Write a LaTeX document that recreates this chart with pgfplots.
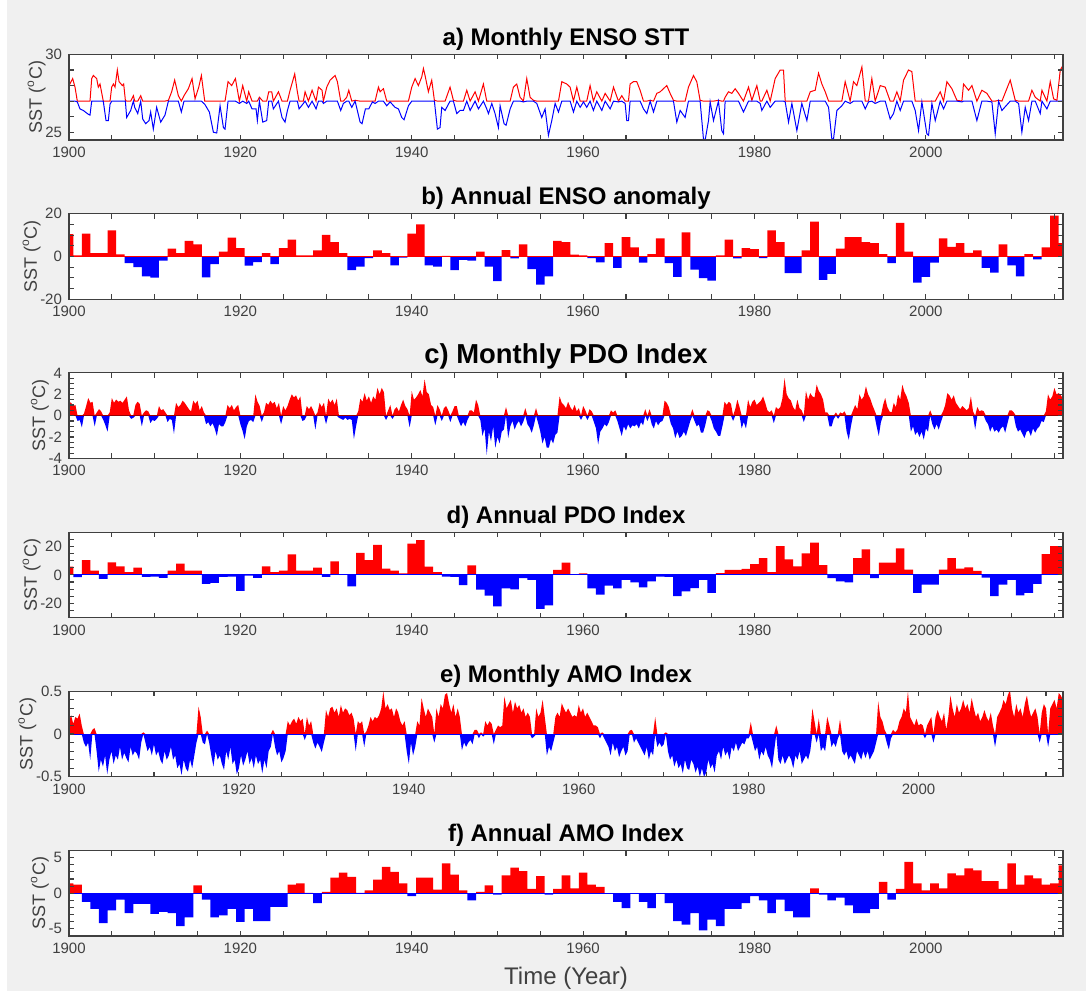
\documentclass[border=0pt]{standalone}
\usepackage{pgfplots}
\pgfplotsset{compat=1.18}
\usepackage{pgfplotstable}
\usepackage{fontspec}
\setmainfont{Liberation Sans}
\definecolor{bgc}{HTML}{F0F0F0}
\definecolor{axc}{HTML}{404040}

% a) monthly ENSO sea surface temperature (degC)
\pgfplotstableread{
yr v
1900.00 28.0
1900.43 28.45
1900.70 27.9
1900.97 26.95
1901.28 26.5
1901.67 26.4
1902.26 26.15
1902.45 26.1
1902.65 28.45
1902.84 28.65
1903.23 28.45
1903.42 27.9
1903.62 28.1
1904.00 27.0
1904.32 25.75
1904.59 25.75
1904.79 26.8
1904.98 27.9
1905.18 28.1
1905.37 27.9
1905.64 29.0
1905.84 28.25
1906.23 28.0
1906.38 28.1
1906.58 27.05
1906.73 25.95
1907.20 26.4
1907.51 27.35
1907.67 26.6
1908.02 26.2
1908.37 27.35
1908.60 25.85
1908.95 25.55
1909.34 25.75
1909.53 26.3
1909.84 25.2
1910.23 26.6
1910.70 25.65
1911.20 26.1
1911.60 27.05
1911.98 27.6
1912.33 28.35
1912.76 27.35
1913.11 26.3
1913.42 27.35
1913.93 27.8
1914.36 28.45
1914.71 27.15
1915.14 27.9
1915.45 28.65
1915.84 26.8
1916.38 26.3
1916.85 25.0
1917.24 24.95
1917.63 26.7
1918.02 25.3
1918.21 25.2
1918.56 28.25
1918.99 28.0
1919.42 28.45
1919.88 26.85
1920.27 28.0
1920.74 26.85
1920.97 27.6
1921.36 26.5
1921.83 26.5
1921.98 25.75
1922.22 27.25
1922.61 25.65
1923.07 25.75
1923.31 27.6
1923.66 27.6
1923.85 26.5
1924.44 27.6
1924.86 25.95
1925.21 25.65
1925.49 26.4
1925.80 27.7
1926.34 28.75
1926.65 27.6
1926.85 26.5
1927.35 26.85
1927.55 27.6
1927.94 26.6
1928.37 27.7
1928.83 26.5
1929.11 27.9
1929.53 27.7
1929.69 26.85
1930.08 27.9
1930.47 28.35
1931.05 28.65
1931.32 28.25
1931.71 26.4
1932.02 26.85
1932.41 27.25
1932.65 27.7
1933.00 26.6
1933.39 27.05
1933.97 25.65
1934.20 25.55
1934.59 26.5
1934.98 26.5
1935.41 26.95
1935.72 26.85
1936.11 27.9
1936.30 27.6
1936.69 27.8
1937.08 26.7
1937.47 26.95
1938.05 26.6
1938.44 26.5
1938.83 25.95
1939.10 25.8
1939.61 26.7
1940.00 27.9
1940.39 28.45
1940.77 28.0
1941.16 28.55
1941.36 29.1
1941.55 28.65
1941.94 27.6
1942.33 28.35
1942.64 27.05
1942.99 25.2
1943.30 25.3
1943.50 26.6
1943.89 26.4
1944.47 27.9
1944.86 27.05
1945.25 26.2
1945.64 26.4
1946.03 26.4
1946.42 27.7
1946.81 26.4
1947.39 27.6
1947.78 26.5
1948.36 28.1
1948.75 26.5
1948.95 26.2
1949.34 26.85
1949.72 26.2
1950.11 25.3
1950.31 26.7
1950.77 25.55
1951.01 25.45
1951.48 26.5
1951.86 27.9
1952.25 28.1
1952.64 27.25
1953.03 26.95
1953.42 28.45
1953.81 27.25
1954.20 27.05
1954.59 26.85
1955.17 25.95
1955.56 26.5
1955.95 24.8
1956.34 25.75
1956.73 26.85
1957.12 26.3
1957.51 28.25
1958.09 28.1
1958.48 27.9
1958.87 26.3
1959.26 27.9
1959.65 26.6
1960.04 26.95
1960.42 26.6
1960.81 28.0
1961.20 26.4
1961.59 27.6
1962.18 26.4
1962.57 27.5
1963.15 26.5
1963.54 27.9
1964.12 26.95
1964.51 27.35
1964.90 26.85
1965.09 25.75
1965.29 25.75
1965.48 28.1
1965.87 28.25
1966.26 28.25
1966.65 27.7
1967.04 26.5
1967.43 26.2
1967.82 27.05
1968.21 26.3
1968.60 27.5
1968.99 27.6
1969.37 27.8
1969.76 28.0
1970.15 27.5
1970.54 27.05
1970.93 25.65
1971.32 26.4
1971.90 25.95
1972.29 27.9
1972.88 28.65
1973.27 28.23
1973.65 27.05
1974.04 24.57
1974.24 24.5
1974.63 25.75
1974.82 26.95
1975.21 25.75
1975.79 27.05
1976.18 25.1
1976.38 24.9
1976.57 27.25
1976.96 27.6
1977.35 27.5
1977.74 27.8
1978.13 27.5
1978.71 26.3
1979.30 27.9
1979.69 27.05
1980.27 28.0
1980.66 26.85
1980.85 26.4
1981.44 27.7
1981.83 26.6
1982.41 28.45
1982.99 29.0
1983.38 29.0
1983.58 26.95
1983.97 25.65
1984.36 26.85
1984.94 25.1
1985.52 26.85
1986.11 25.75
1986.50 27.6
1987.08 27.7
1987.47 28.8
1987.86 28.1
1988.25 27.6
1988.64 26.6
1989.02 24.57
1989.22 24.57
1989.61 26.4
1990.19 26.7
1990.58 28.25
1991.16 26.85
1991.55 28.25
1991.94 28.0
1992.53 29.2
1992.92 26.5
1993.30 26.95
1993.69 28.45
1994.08 26.85
1994.67 28.0
1995.25 27.9
1995.83 25.85
1996.22 26.2
1996.61 27.6
1997.00 26.4
1997.39 28.35
1997.97 29.0
1998.36 28.9
1998.75 26.4
1999.14 25.1
1999.53 26.95
2000.11 24.9
2000.31 24.8
2000.70 26.85
2001.09 25.75
2001.67 27.6
2002.06 26.5
2002.45 28.25
2003.03 27.8
2003.62 27.05
2004.20 26.95
2004.39 28.1
2004.98 27.7
2005.37 28.0
2005.95 25.75
2006.53 27.7
2007.12 27.5
2007.70 26.95
2008.09 24.9
2008.48 27.05
2008.87 26.4
2009.84 28.35
2010.43 27.05
2010.82 26.85
2011.20 25.0
2011.59 26.6
2011.98 25.75
2012.37 27.7
2012.76 27.25
2013.34 26.2
2013.54 27.7
2014.12 26.5
2014.51 28.25
2014.90 27.15
2015.29 27.05
2015.68 29.0
2016.00 29.3
}\ensomonthly

% b) annual ENSO anomaly
\pgfplotstableread{
yr v
1900 10.4
1901 0.5
1902 10.7
1903 1.5
1904 1.5
1905 12.2
1906 1.0
1907 -3.1
1908 -5.0
1909 -9.3
1910 -9.9
1911 -1.9
1912 3.7
1913 1.5
1914 7.3
1915 5.6
1916 -9.8
1917 -3.6
1918 2.3
1919 8.8
1920 3.9
1921 -4.3
1922 -2.6
1923 1.5
1924 -3.6
1925 3.9
1926 7.9
1927 0.5
1928 0.5
1929 2.8
1930 10.1
1931 6.7
1932 1.5
1933 -6.4
1934 -4.8
1935 -0.8
1936 2.8
1937 1.5
1938 -4.2
1939 -0.6
1940 10.7
1941 15.0
1942 -4.2
1943 -4.8
1944 0.3
1945 -6.4
1946 -1.6
1947 -1.9
1948 2.2
1949 -4.8
1950 -11.5
1951 2.9
1952 -0.9
1953 5.6
1954 -5.9
1955 -13.2
1956 -9.3
1957 7.3
1958 6.7
1959 0.8
1960 0.5
1961 -0.8
1962 -2.8
1963 6.2
1964 -5.4
1965 9.0
1966 4.3
1967 -2.9
1968 1.1
1969 8.5
1970 -3.1
1971 -9.6
1972 11.3
1973 -6.2
1974 -10.2
1975 -11.3
1976 0.5
1977 7.9
1978 -0.9
1979 3.9
1980 3.4
1981 -0.8
1982 12.2
1983 6.7
1984 -7.8
1985 -7.8
1986 2.8
1987 16.3
1988 -11.0
1989 -8.2
1990 3.7
1991 9.0
1992 9.0
1993 6.7
1994 6.2
1995 1.1
1996 -3.1
1997 15.7
1998 2.2
1999 -12.2
2000 -9.5
2001 -2.9
2002 8.5
2003 4.5
2004 6.2
2005 1.7
2006 2.8
2007 -5.4
2008 -7.6
2009 5.6
2010 -4.2
2011 -9.3
2012 1.1
2013 -1.4
2014 4.3
2015 19.1
2016 6.2
}\ensoannual

% c) monthly PDO index, sampled every quarter
\pgfplotstableread{
yr v
1900 1.3
1900.25 1.2
1900.5 0.9
1900.75 1.0
1901 -0.5
1901.25 -0.4
1901.5 -1.1
1901.75 0.2
1902 0.9
1902.25 1.65
1902.5 1.2
1902.75 1.3
1903 -1.0
1903.25 0.3
1903.5 0.6
1903.75 0.4
1904 -0.4
1904.25 -0.9
1904.5 -1.5
1904.75 0.3
1905 1.65
1905.25 1.2
1905.5 1.5
1905.75 1.3
1906 1.4
1906.25 1.2
1906.5 1.5
1906.75 1.8
1907 0.5
1907.25 -0.3
1907.5 -0.2
1907.75 1.0
1908 1.3
1908.25 1.1
1908.5 -1.0
1908.75 0.3
1909 0.5
1909.25 0.4
1909.5 -0.7
1909.75 -0.4
1910 -0.5
1910.25 -0.3
1910.5 0.9
1910.75 0.5
1911 0.6
1911.25 0.3
1911.5 -0.6
1911.75 -0.3
1912 -0.4
1912.25 -1.7
1912.5 1.2
1912.75 0.8
1913 1.0
1913.25 1.4
1913.5 1.2
1913.75 0.9
1914 0.6
1914.25 0.4
1914.5 1.4
1914.75 1.1
1915 1.4
1915.25 0.5
1915.5 0.9
1915.75 0.3
1916 -0.8
1916.25 -0.6
1916.5 -1.0
1916.75 -0.7
1917 -1.2
1917.25 -1.9
1917.5 -0.8
1917.75 -1.0
1918 -1.0
1918.25 -0.6
1918.5 1.0
1918.75 0.7
1919 1.0
1919.25 0.5
1919.5 0.8
1919.75 1.0
1920 -0.8
1920.25 -1.4
1920.5 -2.2
1920.75 -1.0
1921 -0.5
1921.25 -0.4
1921.5 -0.6
1921.75 2.0
1922 1.3
1922.25 0.9
1922.5 -0.6
1922.75 0.3
1923 1.2
1923.25 1.0
1923.5 1.4
1923.75 1.1
1924 1.3
1924.25 0.7
1924.5 1.2
1924.75 -0.8
1925 0.9
1925.25 0.5
1925.5 0.9
1925.75 1.5
1926 2.0
1926.25 1.7
1926.5 1.9
1926.75 1.4
1927 1.8
1927.25 -0.5
1927.5 -0.4
1927.75 0.9
1928 0.6
1928.25 0.9
1928.5 0.5
1928.75 -1.3
1929 0.3
1929.25 1.2
1929.5 0.8
1929.75 1.2
1930 -0.8
1930.25 1.6
1930.5 1.2
1930.75 1.5
1931 1.0
1931.25 1.6
1931.5 -0.2
1931.75 -0.3
1932 -0.4
1932.25 -0.2
1932.5 -0.4
1932.75 -0.3
1933 -0.4
1933.25 -2.2
1933.5 -1.0
1933.75 0.4
1934 1.6
1934.25 1.3
1934.5 2.1
1934.75 1.4
1935 1.8
1935.25 1.2
1935.5 1.8
1935.75 1.5
1936 2.6
1936.25 2.0
1936.5 2.6
1936.75 2.2
1937 -0.4
1937.25 0.5
1937.5 1.0
1937.75 -0.3
1938 0.6
1938.25 0.8
1938.5 0.4
1938.75 1.0
1939 1.5
1939.25 0.9
1939.5 0.6
1939.75 -1.1
1940 2.3
1940.25 1.5
1940.5 1.7
1940.75 2.0
1941 2.4
1941.25 1.8
1941.5 3.4
1941.75 2.2
1942 2.0
1942.25 1.0
1942.5 0.8
1942.75 -0.9
1943 1.0
1943.25 0.6
1943.5 -0.5
1943.75 0.7
1944 0.9
1944.25 0.5
1944.5 -0.6
1944.75 0.4
1945 0.9
1945.25 0.9
1945.5 -0.5
1945.75 -1.0
1946 -0.6
1946.25 -1.0
1946.5 -0.4
1946.75 0.5
1947 0.5
1947.25 0.3
1947.5 1.5
1947.75 1.0
1948 -0.4
1948.25 -1.9
1948.5 -1.2
1948.75 -3.65
1949 -1.5
1949.25 -2.4
1949.5 -1.0
1949.75 -3.0
1950 -2.0
1950.25 -2.6
1950.5 -1.5
1950.75 -1.3
1951 0.8
1951.25 -2.1
1951.5 -1.0
1951.75 -0.5
1952 -1.3
1952.25 -0.8
1952.5 -0.5
1952.75 -1.0
1953 -0.6
1953.25 0.7
1953.5 -0.8
1953.75 -1.1
1954 -1.6
1954.25 -0.9
1954.5 0.7
1954.75 -0.7
1955 -1.5
1955.25 -2.6
1955.5 -2.0
1955.75 -3.0
1956 -3.0
1956.25 -2.2
1956.5 -2.6
1956.75 -1.8
1957 -1.6
1957.25 1.8
1957.5 1.2
1957.75 1.0
1958 0.7
1958.25 1.3
1958.5 0.8
1958.75 0.5
1959 1.0
1959.25 0.4
1959.5 0.7
1959.75 -0.4
1960 0.9
1960.25 0.5
1960.5 -0.4
1960.75 0.6
1961 0.4
1961.25 -0.6
1961.5 -1.2
1961.75 -2.7
1962 -1.5
1962.25 -1.2
1962.5 -0.8
1962.75 -1.0
1963 -0.6
1963.25 0.5
1963.5 0.3
1963.75 0.5
1964 -0.5
1964.25 -1.2
1964.5 -1.9
1964.75 -1.0
1965 -1.4
1965.25 -0.8
1965.5 -1.2
1965.75 -0.9
1966 -1.0
1966.25 -0.8
1966.5 -1.2
1966.75 -0.6
1967 -0.9
1967.25 0.6
1967.5 -0.5
1967.75 0.6
1968 -0.8
1968.25 -1.2
1968.5 -0.5
1968.75 -0.9
1969 -0.6
1969.25 -0.5
1969.5 1.4
1969.75 1.2
1970 0.8
1970.25 -0.8
1970.5 -1.2
1970.75 -2.1
1971 -1.5
1971.25 -2.1
1971.5 -1.9
1971.75 -1.5
1972 -1.9
1972.25 -1.2
1972.5 -0.5
1972.75 0.6
1973 -0.5
1973.25 -1.0
1973.5 -0.8
1973.75 -1.6
1974 -1.6
1974.25 -0.9
1974.5 0.5
1974.75 0.4
1975 -0.5
1975.25 -1.2
1975.5 -1.5
1975.75 -1.9
1976 -1.9
1976.25 -1.0
1976.5 1.3
1976.75 1.0
1977 1.3
1977.25 1.1
1977.5 -0.5
1977.75 0.6
1978 1.5
1978.25 0.8
1978.5 -1.2
1978.75 -0.6
1979 -1.2
1979.25 1.5
1979.5 0.8
1979.75 1.3
1980 1.5
1980.25 1.0
1980.5 1.2
1980.75 1.4
1981 1.8
1981.25 1.2
1981.5 0.5
1981.75 0.3
1982 0.5
1982.25 -0.7
1982.5 0.8
1982.75 0.6
1983 0.8
1983.25 1.6
1983.5 3.5
1983.75 2.0
1984 1.6
1984.25 1.4
1984.5 0.8
1984.75 0.5
1985 1.5
1985.25 0.7
1985.5 0.5
1985.75 -0.6
1986 2.3
1986.25 1.5
1986.5 2.1
1986.75 1.8
1987 1.7
1987.25 2.9
1987.5 2.3
1987.75 2.0
1988 1.5
1988.25 0.3
1988.5 0.3
1988.75 -1.0
1989 -1.0
1989.25 -0.3
1989.5 0.3
1989.75 -0.3
1990 0.3
1990.25 0.2
1990.5 0.4
1990.75 -1.5
1991 -2.25
1991.25 -1.0
1991.5 0.5
1991.75 1.0
1992 0.6
1992.25 2.0
1992.5 1.5
1992.75 1.8
1993 2.75
1993.25 2.0
1993.5 1.6
1993.75 1.0
1994 0.5
1994.25 -1.0
1994.5 -1.9
1994.75 -0.6
1995 1.0
1995.25 1.65
1995.5 0.8
1995.75 0.4
1996 0.3
1996.25 1.2
1996.5 0.8
1996.75 2.0
1997 1.5
1997.25 2.9
1997.5 2.2
1997.75 1.8
1998 1.2
1998.25 -1.5
1998.5 -1.0
1998.75 -1.8
1999 -1.5
1999.25 -2.0
1999.5 -1.5
1999.75 -2.25
2000 -1.2
2000.25 -1.5
2000.5 0.5
2000.75 -0.8
2001 -1.3
2001.25 -0.8
2001.5 -1.3
2001.75 -0.6
2002 0.4
2002.25 1.0
2002.5 2.1
2002.75 1.9
2003 1.5
2003.25 1.9
2003.5 1.2
2003.75 0.9
2004 0.6
2004.25 0.9
2004.5 0.7
2004.75 0.5
2005 0.7
2005.25 1.8
2005.5 0.4
2005.75 -1.3
2006 0.8
2006.25 0.4
2006.5 0.5
2006.75 0.4
2007 -0.5
2007.25 -0.8
2007.5 -1.5
2007.75 -1.0
2008 -1.5
2008.25 -1.3
2008.5 -1.6
2008.75 -1.2
2009 -1.0
2009.25 -1.6
2009.5 -0.8
2009.75 0.5
2010 0.5
2010.25 0.3
2010.5 -1.0
2010.75 -1.5
2011 -1.3
2011.25 -1.7
2011.5 -2.1
2011.75 -1.5
2012 -1.4
2012.25 -1.9
2012.5 -1.2
2012.75 -1.6
2013 -1.2
2013.25 -1.0
2013.5 -0.5
2013.75 -0.6
2014 0.4
2014.25 2.0
2014.5 1.5
2014.75 1.8
2015 2.6
2015.25 2.0
2015.5 2.1
2015.75 1.9
2016 1.6
}\pdomonthly

% d) annual PDO index
\pgfplotstableread{
yr v
1900 5.8
1901 -1.6
1902 10.4
1903 3.0
1904 -2.8
1905 8.8
1906 6.0
1907 1.9
1908 5.1
1909 -1.4
1910 -1.2
1911 -2.1
1912 3.0
1913 7.9
1914 3.0
1915 3.0
1916 -6.3
1917 -5.6
1918 -1.4
1919 -1.2
1920 -11.3
1921 -0.5
1922 -2.1
1923 6.0
1924 1.9
1925 3.0
1926 14.4
1927 3.0
1928 3.0
1929 5.1
1930 -1.4
1931 9.5
1932 0.2
1933 -8.1
1934 15.5
1935 10.4
1936 21.1
1937 4.4
1938 3.0
1939 1.0
1940 22.0
1941 24.3
1942 5.8
1943 1.9
1944 -1.2
1945 -1.4
1946 -7.2
1947 6.7
1948 -10.4
1949 -14.6
1950 -22.2
1951 -9.5
1952 -10.2
1953 -2.3
1954 -3.5
1955 -23.8
1956 -21.5
1957 3.5
1958 8.6
1959 0.2
1960 1.0
1961 -9.5
1962 -13.9
1963 -7.6
1964 -9.5
1965 -3.5
1966 -5.3
1967 -8.8
1968 -4.6
1969 -1.2
1970 -1.4
1971 -15.0
1972 -11.6
1973 -9.3
1974 -3.5
1975 -12.7
1976 1.2
1977 3.5
1978 3.5
1979 4.2
1980 7.6
1981 11.8
1982 1.9
1983 20.1
1984 10.9
1985 6.0
1986 15.0
1987 22.7
1988 6.9
1989 -2.3
1990 -4.6
1991 -5.3
1992 11.8
1993 17.8
1994 -2.3
1995 8.6
1996 8.6
1997 18.5
1998 3.7
1999 -12.7
2000 -6.9
2001 -6.9
2002 3.7
2003 11.8
2004 4.4
2005 5.3
2006 2.8
2007 -1.9
2008 -15.0
2009 -6.9
2010 -3.5
2011 -14.4
2012 -12.7
2013 -6.3
2014 14.6
2015 20.1
2016 20.1
}\pdoannual

% e) monthly AMO index, sampled every quarter
\pgfplotstableread{
yr v
1900 0.15
1900.25 0.22
1900.5 0.12
1900.75 0.2
1901 0.18
1901.25 0.24
1901.5 0.1
1901.75 -0.1
1902 -0.15
1902.25 -0.1
1902.5 -0.3
1902.75 0.05
1903 0.07
1903.25 -0.2
1903.5 -0.44
1903.75 -0.3
1904 -0.38
1904.25 -0.25
1904.5 -0.47
1904.75 -0.3
1905 -0.2
1905.25 -0.35
1905.5 -0.25
1905.75 -0.3
1906 -0.15
1906.25 -0.3
1906.5 -0.22
1906.75 -0.28
1907 -0.33
1907.25 -0.15
1907.5 -0.25
1907.75 -0.2
1908 -0.23
1908.25 -0.3
1908.5 -0.1
1908.75 0.02
1909 -0.1
1909.25 -0.2
1909.5 -0.15
1909.75 -0.25
1910 -0.12
1910.25 -0.25
1910.5 -0.2
1910.75 -0.3
1911 -0.35
1911.25 -0.2
1911.5 -0.3
1911.75 -0.25
1912 -0.15
1912.25 -0.3
1912.5 -0.25
1912.75 -0.4
1913 -0.35
1913.25 -0.48
1913.5 -0.3
1913.75 -0.4
1914 -0.44
1914.25 -0.3
1914.5 -0.4
1914.75 -0.25
1915 -0.1
1915.25 0.32
1915.5 0.2
1915.75 -0.1
1916 -0.12
1916.25 0.04
1916.5 -0.1
1916.75 -0.25
1917 -0.38
1917.25 -0.2
1917.5 -0.3
1917.75 -0.25
1918 -0.35
1918.25 -0.42
1918.5 -0.2
1918.75 -0.3
1919 -0.15
1919.25 -0.35
1919.5 -0.3
1919.75 -0.47
1920 -0.4
1920.25 -0.25
1920.5 -0.37
1920.75 -0.3
1921 -0.2
1921.25 -0.35
1921.5 -0.28
1921.75 -0.4
1922 -0.25
1922.25 -0.35
1922.5 -0.3
1922.75 -0.46
1923 -0.3
1923.25 -0.4
1923.5 -0.2
1923.75 -0.15
1924 0.05
1924.25 -0.15
1924.5 -0.25
1924.75 -0.2
1925 -0.33
1925.25 -0.28
1925.5 -0.2
1925.75 0.15
1926 0.1
1926.25 0.15
1926.5 0.18
1926.75 0.12
1927 0.2
1927.25 0.15
1927.5 0.18
1927.75 -0.07
1928 0.2
1928.25 0.1
1928.5 0.15
1928.75 -0.1
1929 -0.17
1929.25 -0.1
1929.5 -0.15
1929.75 -0.21
1930 -0.1
1930.25 0.28
1930.5 0.2
1930.75 0.3
1931 0.32
1931.25 0.25
1931.5 0.3
1931.75 0.2
1932 0.34
1932.25 0.25
1932.5 0.3
1932.75 0.28
1933 0.22
1933.25 0.25
1933.5 0.18
1933.75 -0.2
1934 0.15
1934.25 0.12
1934.5 0.15
1934.75 -0.15
1935 0.03
1935.25 0.1
1935.5 0.2
1935.75 0.15
1936 0.2
1936.25 0.18
1936.5 0.22
1936.75 0.3
1937 0.5
1937.25 0.3
1937.5 0.35
1937.75 0.28
1938 0.3
1938.25 0.2
1938.5 0.3
1938.75 0.25
1939 0.15
1939.25 0.1
1939.5 0.15
1939.75 -0.2
1940 -0.35
1940.25 -0.1
1940.5 -0.25
1940.75 -0.15
1941 0.15
1941.25 0.1
1941.5 0.42
1941.75 0.3
1942 0.2
1942.25 0.3
1942.5 0.25
1942.75 0.2
1943 -0.1
1943.25 0.3
1943.5 0.2
1943.75 0.35
1944 0.3
1944.25 0.46
1944.5 0.48
1944.75 0.35
1945 0.25
1945.25 0.35
1945.5 0.2
1945.75 0.3
1946 0.2
1946.25 -0.19
1946.5 -0.1
1946.75 -0.15
1947 -0.1
1947.25 -0.07
1947.5 -0.12
1947.75 0.05
1948 0.05
1948.25 -0.05
1948.5 0.02
1948.75 -0.03
1949 0.15
1949.25 0.1
1949.5 0.15
1949.75 0.12
1950 -0.12
1950.25 0.05
1950.5 0.1
1950.75 0.08
1951 0.1
1951.25 0.44
1951.5 0.3
1951.75 0.35
1952 0.4
1952.25 0.25
1952.5 0.38
1952.75 0.3
1953 0.34
1953.25 0.25
1953.5 0.3
1953.75 0.2
1954 0.25
1954.25 0.2
1954.5 -0.05
1954.75 -0.03
1955 0.3
1955.25 0.2
1955.5 0.25
1955.75 0.4
1956 0.2
1956.25 -0.25
1956.5 -0.15
1956.75 -0.2
1957 -0.1
1957.25 0.2
1957.5 0.25
1957.75 0.2
1958 0.36
1958.25 0.3
1958.5 0.25
1958.75 0.3
1959 0.25
1959.25 0.2
1959.5 0.22
1959.75 0.2
1960 0.34
1960.25 0.25
1960.5 0.3
1960.75 0.2
1961 0.25
1961.25 0.2
1961.5 0.15
1961.75 0.1
1962 0.1
1962.25 0.08
1962.5 -0.05
1962.75 0.02
1963 -0.05
1963.25 -0.1
1963.5 -0.15
1963.75 -0.25
1964 -0.1
1964.25 -0.2
1964.5 -0.15
1964.75 -0.27
1965 -0.2
1965.25 -0.15
1965.5 -0.25
1965.75 -0.2
1966 0.04
1966.25 0.05
1966.5 -0.1
1966.75 -0.05
1967 -0.1
1967.25 -0.15
1967.5 -0.2
1967.75 -0.25
1968 -0.15
1968.25 -0.3
1968.5 -0.2
1968.75 -0.25
1969 0.2
1969.25 -0.15
1969.5 -0.1
1969.75 -0.15
1970 -0.12
1970.25 0.02
1970.5 -0.2
1970.75 -0.3
1971 -0.25
1971.25 -0.38
1971.5 -0.3
1971.75 -0.4
1972 -0.35
1972.25 -0.46
1972.5 -0.3
1972.75 -0.4
1973 -0.42
1973.25 -0.3
1973.5 -0.35
1973.75 -0.45
1974 -0.38
1974.25 -0.5
1974.5 -0.4
1974.75 -0.5
1975 -0.45
1975.25 -0.3
1975.5 -0.4
1975.75 -0.35
1976 -0.45
1976.25 -0.25
1976.5 -0.2
1976.75 -0.3
1977 -0.15
1977.25 -0.25
1977.5 -0.2
1977.75 -0.3
1978 -0.15
1978.25 -0.2
1978.5 -0.1
1978.75 -0.2
1979 -0.15
1979.25 -0.1
1979.5 -0.12
1979.75 -0.05
1980 -0.05
1980.25 0.14
1980.5 -0.1
1980.75 -0.2
1981 -0.15
1981.25 -0.3
1981.5 -0.2
1981.75 -0.25
1982 -0.15
1982.25 -0.25
1982.5 -0.3
1982.75 -0.4
1983 -0.2
1983.25 0.1
1983.5 -0.3
1983.75 -0.35
1984 -0.25
1984.25 -0.35
1984.5 -0.3
1984.75 -0.25
1985 -0.3
1985.25 -0.4
1985.5 -0.25
1985.75 -0.3
1986 -0.2
1986.25 -0.35
1986.5 -0.3
1986.75 -0.25
1987 -0.3
1987.25 -0.2
1987.5 0.3
1987.75 0.15
1988 -0.1
1988.25 0.18
1988.5 -0.2
1988.75 -0.15
1989 -0.2
1989.25 0.2
1989.5 0.1
1989.75 -0.15
1990 -0.1
1990.25 -0.15
1990.5 -0.05
1990.75 0.17
1991 -0.2
1991.25 -0.25
1991.5 -0.2
1991.75 -0.3
1992 -0.25
1992.25 -0.3
1992.5 -0.35
1992.75 -0.2
1993 -0.25
1993.25 -0.3
1993.5 -0.2
1993.75 -0.28
1994 -0.2
1994.25 -0.3
1994.5 -0.25
1994.75 -0.2
1995 -0.1
1995.25 0.38
1995.5 0.2
1995.75 0.15
1996 0.05
1996.25 -0.1
1996.5 -0.18
1996.75 -0.05
1997 0.05
1997.25 0.02
1997.5 0.05
1997.75 0.15
1998 0.2
1998.25 0.3
1998.5 0.25
1998.75 0.5
1999 0.2
1999.25 0.15
1999.5 0.1
1999.75 0.18
2000 0.1
2000.25 0.12
2000.5 0.1
2000.75 -0.05
2001 0.1
2001.25 0.15
2001.5 0.2
2001.75 -0.1
2002 0.2
2002.25 0.28
2002.5 0.2
2002.75 0.15
2003 0.25
2003.25 0.05
2003.5 0.2
2003.75 0.45
2004 0.3
2004.25 0.2
2004.5 0.35
2004.75 0.25
2005 0.3
2005.25 0.4
2005.5 0.3
2005.75 0.35
2006 0.25
2006.25 0.42
2006.5 0.3
2006.75 0.2
2007 0.25
2007.25 0.15
2007.5 0.2
2007.75 0.28
2008 0.2
2008.25 0.15
2008.5 0.25
2008.75 0.1
2009 -0.15
2009.25 0.2
2009.5 0.25
2009.75 0.3
2010 0.4
2010.25 0.35
2010.5 0.45
2010.75 0.52
2011 0.3
2011.25 0.2
2011.5 0.35
2011.75 0.25
2012 0.3
2012.25 0.2
2012.5 0.35
2012.75 0.45
2013 0.3
2013.25 0.2
2013.5 0.25
2013.75 0.3
2014 0.2
2014.25 -0.1
2014.5 0.25
2014.75 0.35
2015 0.3
2015.25 -0.15
2015.5 0.3
2015.75 0.35
2016 0.4
2016.25 0.3
2016.5 0.48
2016.75 0.45
2017 0.4
}\amomonthly

% f) annual AMO index
\pgfplotstableread{
yr v
1900 1.4
1901 1.2
1902 -1.2
1903 -2.2
1904 -4.2
1905 -2.4
1906 -0.9
1907 -2.8
1908 -1.5
1909 -1.5
1910 -2.9
1911 -2.6
1912 -2.8
1913 -4.6
1914 -3.4
1915 1.1
1916 -0.9
1917 -3.4
1918 -3.1
1919 -2.2
1920 -4.0
1921 -2.2
1922 -3.9
1923 -3.9
1924 -1.9
1925 -1.9
1926 1.2
1927 1.4
1928 0.05
1929 -1.4
1930 0.2
1931 2.2
1932 2.9
1933 2.3
1934 0.05
1935 0.4
1936 1.9
1937 3.7
1938 3.0
1939 1.4
1940 -0.4
1941 2.2
1942 2.2
1943 0.5
1944 4.2
1945 2.6
1946 0.4
1947 -1.0
1948 0.2
1949 1.1
1950 -0.2
1951 2.5
1952 3.6
1953 3.1
1954 0.6
1955 2.4
1956 -0.2
1957 0.6
1958 2.5
1959 0.7
1960 2.9
1961 1.2
1962 0.9
1963 -0.05
1964 -1.2
1965 -2.1
1966 -0.05
1967 -1.2
1968 -2.1
1969 -0.05
1970 -1.4
1971 -3.9
1972 -4.4
1973 -2.8
1974 -5.2
1975 -3.7
1976 -4.6
1977 -2.2
1978 -2.2
1979 -1.4
1980 -0.4
1981 -1.0
1982 -2.8
1983 -0.9
1984 -2.5
1985 -3.4
1986 -3.4
1987 0.7
1988 -0.2
1989 -1.0
1990 -0.6
1991 -1.7
1992 -2.8
1993 -2.8
1994 -2.2
1995 1.6
1996 -0.9
1997 0.6
1998 4.4
1999 1.4
2000 0.4
2001 1.4
2002 0.7
2003 2.8
2004 2.5
2005 3.5
2006 3.2
2007 1.7
2008 1.7
2009 0.6
2010 4.2
2011 1.2
2012 2.5
2013 2.1
2014 1.2
2015 1.4
2016 3.9
}\amoannual

\pgfplotsset{
  panel/.style={
    scale only axis, anchor=south west,
    width=497pt, height=42.75pt,
    xmin=1900, xmax=2016,
    axis on top,
    axis background/.style={fill=white},
    axis line style={axc, line width=0.55pt},
    every tick/.style={axc, line width=0.55pt},
    major tick length=2.5pt, minor tick length=2.5pt,
    xtick={1900,1920,...,2000},
    minor xtick={1905,1910,...,2015},
    tick label style={font=\fontsize{7.5}{9}\selectfont, text=axc},
    /pgf/number format/assume math mode=true,
    /pgf/number format/1000 sep={},
    title style={font=\bfseries\fontsize{12}{14}\selectfont, at={(0.5,1)}, anchor=base, yshift=-1.5pt},
    ylabel={SST (\textsuperscript{o}C)},
    ylabel style={font=\fontsize{9}{10}\selectfont, text=axc},
    ylabel shift=-7pt,
  },
  pos/.style={fill=red, draw=none},
  neg/.style={fill=blue, draw=none},
  annualbar/.style={ybar, bar width=1, bar shift=0pt},
}

\begin{document}
\begin{tikzpicture}
\fill[bgc] (0,0) rectangle (543pt,495.5pt);
\fill[white] (0,0) rectangle (3.5pt,495.5pt);

% a) monthly ENSO SST, red above 27 degC and blue below
\begin{axis}[panel, at={(34.5pt,425.5pt)},
  title={a) Monthly ENSO STT},
  ymin=24.5, ymax=30, ytick={25,30}, minor ytick={26,27,28,29}]
\addplot[red, line width=0.5pt] table[x=yr, y expr={max(\thisrow{v},27)}] {\ensomonthly};
\addplot[blue, line width=0.5pt] table[x=yr, y expr={min(\thisrow{v},27)}] {\ensomonthly};
\end{axis}

% b) annual ENSO anomaly
\begin{axis}[panel, at={(34.5pt,345.9pt)},
  title={b) Annual ENSO anomaly},
  ymin=-20, ymax=20, ytick={-20,0,20}, minor ytick={-15,-10,-5,5,10,15}]
\addplot[annualbar, pos] table[x=yr, y expr={max(\thisrow{v},0)}] {\ensoannual};
\addplot[annualbar, neg] table[x=yr, y expr={min(\thisrow{v},0)}] {\ensoannual};
\draw[red, line width=0.5pt] (axis cs:1900,0) -- (axis cs:2016,0);
\end{axis}

% c) monthly PDO index
\begin{axis}[panel, at={(34.5pt,266.3pt)},
  title={c) Monthly PDO Index},
  title style={font=\bfseries\fontsize{13.7}{16}\selectfont},
  ymin=-4, ymax=4, ytick={-4,-2,0,2,4}, minor y tick num=3]
\addplot[pos] table[x=yr, y expr={max(\thisrow{v},0)}] {\pdomonthly} \closedcycle;
\addplot[neg] table[x=yr, y expr={min(\thisrow{v},0)}] {\pdomonthly} \closedcycle;
\draw[red!60!black, line width=0.4pt] (axis cs:1900,0) -- (axis cs:2016,0);
\end{axis}

% d) annual PDO index
\begin{axis}[panel, at={(34.5pt,186.7pt)},
  title={d) Annual PDO Index},
  ymin=-30, ymax=30, ytick={-20,0,20}, minor ytick={-30,-25,...,30}]
\addplot[annualbar, pos] table[x=yr, y expr={max(\thisrow{v},0)}] {\pdoannual};
\addplot[annualbar, neg] table[x=yr, y expr={min(\thisrow{v},0)}] {\pdoannual};
\draw[blue, line width=0.5pt] (axis cs:1900,0) -- (axis cs:2016,0);
\end{axis}

% e) monthly AMO index
\begin{axis}[panel, at={(34.5pt,107.1pt)}, xmax=2017,
  title={e) Monthly AMO Index},
  ymin=-0.5, ymax=0.5, ytick={-0.5,0,0.5}, minor y tick num=4]
\addplot[pos] table[x=yr, y expr={max(\thisrow{v},0)}] {\amomonthly} \closedcycle;
\addplot[neg] table[x=yr, y expr={min(\thisrow{v},0)}] {\amomonthly} \closedcycle;
\draw[blue, line width=0.4pt] (axis cs:1900,0) -- (axis cs:2017,0);
\end{axis}

% f) annual AMO index
\begin{axis}[panel, at={(34.5pt,27.5pt)},
  title={f) Annual AMO Index},
  ymin=-6, ymax=6, ytick={-5,0,5}, minor ytick={-6,...,6},
  xlabel={Time (Year)},
  xlabel style={font=\fontsize{12}{14}\selectfont, text=axc}]
\addplot[annualbar, pos] table[x=yr, y expr={max(\thisrow{v},0)}] {\amoannual};
\addplot[annualbar, neg] table[x=yr, y expr={min(\thisrow{v},0)}] {\amoannual};
\draw[blue, line width=0.5pt] (axis cs:1900,0) -- (axis cs:2016,0);
\end{axis}

\pgfresetboundingbox
\useasboundingbox (0,0) rectangle (543pt,495.5pt);
\end{tikzpicture}
\end{document}
